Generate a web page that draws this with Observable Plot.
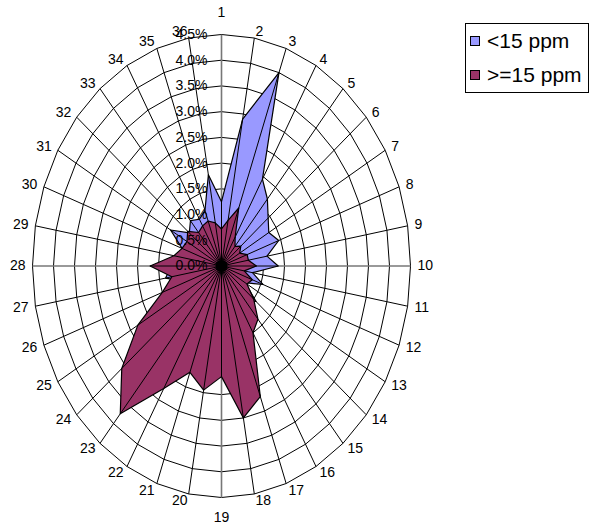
<!DOCTYPE html>
<html><head><meta charset="utf-8">
<script src="https://cdn.jsdelivr.net/npm/d3@7"></script>
<script src="https://cdn.jsdelivr.net/npm/@observablehq/plot@0.6"></script>
<style>
body{margin:0;background:#fff;font-family:"Liberation Sans",Arial,sans-serif;}
#wrap{position:relative;width:590px;height:527px;}
#legend{position:absolute;left:465px;top:23px;width:124px;height:70px;border:1px solid #000;background:#fff;box-sizing:border-box;}
.item{position:absolute;left:4px;display:flex;align-items:center;font-size:21px;line-height:21px;white-space:nowrap;}
.sw{width:10px;height:10px;border:1px solid #000;margin-right:7px;box-sizing:border-box;}
</style></head><body><div id="wrap"></div>
<script>
const categories = ["1","2","3","4","5","6","7","8","9","10","11","12","13","14","15","16","17","18",
  "19","20","21","22","23","24","25","26","27","28","29","30","31","32","33","34","35","36"];
const below15 = [1.25,2.9,4.0,1.95,1.7,1.45,1.3,1.45,1.1,1.35,0.75,1.05,0.65,1.07,0.9,0.8,0.8,0.8,
  0.8,0.8,0.8,0.8,0.8,0.8,0.8,0.9,1.35,1.2,1.0,1.0,1.4,1.0,1.15,1.05,1.15,1.8];
const above15 = [0.72,0.9,1.2,0.65,0.5,0.6,0.5,0.65,0.65,0.83,0.55,0.78,0.7,1.0,1.35,1.5,2.7,3.0,
  2.15,2.45,2.2,2.75,3.75,3.1,2.3,1.5,1.2,1.7,1.15,1.0,0.95,1.05,0.85,0.9,0.93,0.85];
const tickValues = [0,0.5,1,1.5,2,2.5,3,3.5,4,4.5];
const tickLabels = ["0.0%","0.5%","1.0%","1.5%","2.0%","2.5%","3.0%","3.5%","4.0%","4.5%"];
const seriesNames = ["<15 ppm", ">=15 ppm"];
const seriesColors = ["#9999FF", "#993366"];

const N = categories.length;
const MAX = 4.5;
const X0 = 32, X1 = 410, Y0 = 497, Y1 = 34;
const kx = (X1 - X0) / (2 * MAX), ky = (Y0 - Y1) / (2 * MAX);
const ang = i => i * 2 * Math.PI / N;
const sn = i => Math.sin(ang(i)), cs = i => Math.cos(ang(i));

const rings = [];
tickValues.filter(v => v > 0).forEach(v => {
  for (let i = 0; i <= N; i++) rings.push({level: v, x: v * sn(i % N), y: v * cs(i % N)});
});
const spokes = categories.map((c, i) => ({x: MAX * sn(i), y: MAX * cs(i), axis: i % 9 === 0}));
const pts = (vals) => vals.map((v, i) => ({x: v * sn(i), y: v * cs(i)}));
const s1 = pts(below15), s2 = pts(above15);

const catLabels = categories.map((c, i) => {
  const s = sn(i), co = cs(i);
  let dxp, dyp, side;
  if (Math.abs(s) < 1e-6) { side = "m"; dxp = 0; dyp = co > 0 ? 22 : -20; }
  else { side = s > 0 ? "r" : "l"; dxp = s * 7; dyp = co * 7; }
  return {text: c, side, x: MAX * s + dxp / kx, y: MAX * co + dyp / ky};
});

const fs = 14;
const chart = Plot.plot({
  width: 590, height: 527,
  marginTop: 0, marginBottom: 0, marginLeft: 0, marginRight: 0,
  x: {domain: [-MAX, MAX], range: [X0, X1], axis: null},
  y: {domain: [-MAX, MAX], range: [Y0, Y1], axis: null},
  style: {fontFamily: "'Liberation Sans', Arial, sans-serif", background: "white", color: "black"},
  marks: [
    Plot.line(rings, {x: "x", y: "y", z: "level", stroke: "#000", strokeWidth: 1}),
    Plot.link(spokes, {x1: 0, y1: 0, x2: "x", y2: "y", stroke: d => d.axis ? "#777" : "#000", strokeWidth: d => d.axis ? 1.6 : 1}),
    Plot.line(s1, {x: "x", y: "y", fill: seriesColors[0], stroke: "#000", strokeWidth: 1.2, curve: "linear-closed"}),
    Plot.link(s1, {x1: 0, y1: 0, x2: "x", y2: "y", stroke: "#000", strokeWidth: 1}),
    Plot.line(s2, {x: "x", y: "y", fill: seriesColors[1], stroke: "#000", strokeWidth: 1.2, curve: "linear-closed"}),
    Plot.link(s2, {x1: 0, y1: 0, x2: "x", y2: "y", stroke: "#000", strokeWidth: 1}),
    Plot.dot([{x: 0, y: 0}], {x: "x", y: "y", r: 6, fill: "#000"}),
    Plot.text(tickValues, {x: 0, y: d => d, text: (d, i) => tickLabels[i], textAnchor: "end", dx: -14, fontSize: fs, fill: "#000"}),
    Plot.text(catLabels.filter(d => d.side === "r"), {x: "x", y: "y", text: "text", textAnchor: "start", fontSize: fs, fill: "#000"}),
    Plot.text(catLabels.filter(d => d.side === "l"), {x: "x", y: "y", text: "text", textAnchor: "end", fontSize: fs, fill: "#000"}),
    Plot.text(catLabels.filter(d => d.side === "m"), {x: "x", y: "y", text: "text", textAnchor: "middle", fontSize: fs, fill: "#000"})
  ]
});
const wrap = document.getElementById("wrap");
wrap.appendChild(chart);
const legend = document.createElement("div");
legend.id = "legend";
seriesNames.forEach((name, i) => {
  const it = document.createElement("div");
  it.className = "item";
  it.style.top = (6 + i * 34) + "px";
  const sw = document.createElement("div");
  sw.className = "sw";
  sw.style.background = seriesColors[i];
  it.appendChild(sw);
  it.appendChild(document.createTextNode(name));
  legend.appendChild(it);
});
wrap.appendChild(legend);
</script></body></html>
